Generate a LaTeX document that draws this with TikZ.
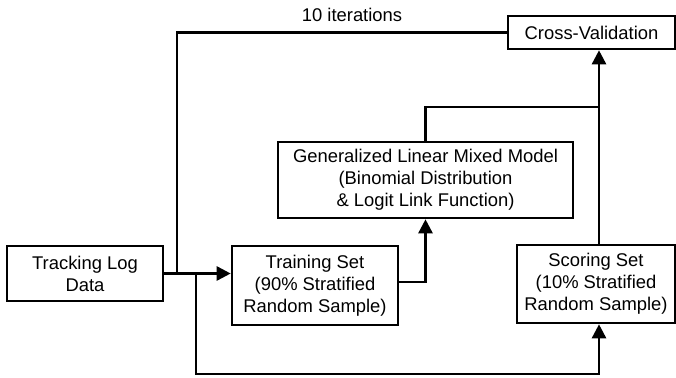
\documentclass[tikz,border=0pt]{standalone}
\usepackage{fontspec}
\setmainfont{Liberation Sans}
\usetikzlibrary{arrows.meta}

\begin{document}
\begin{tikzpicture}[x=1pt, y=-1pt, line width=2.6pt,
    box/.style={draw, rectangle, inner sep=0pt, align=center, font=\fontsize{18.4}{22}\selectfont},
    flow/.style={-{Triangle[length=14pt, width=14pt]}}]
    \useasboundingbox (0,0) rectangle (676,377);

    \node[box, minimum width=156pt, minimum height=55pt] (track) at (85,273.5) {Tracking Log\\Data};
    \node[box, minimum width=166pt, minimum height=79pt] (train) at (315,285.5) {Training Set\\(90\% Stratified\\Random Sample)};
    \node[box, minimum width=295pt, minimum height=76pt] (glmm) at (425.5,180) {Generalized Linear Mixed Model\\(Binomial Distribution\\\& Logit Link Function)};
    \node[box, minimum width=158pt, minimum height=78pt] (score) at (596,284) {Scoring Set\\(10\% Stratified\\Random Sample)};
    \node[box, minimum width=167pt, minimum height=33pt] (cv) at (591.5,32.5) {Cross-Validation};
    \node[font=\fontsize{18.4}{22}\selectfont] (iter) at (352,15) {10 iterations};

    \coordinate (split) at (177,273.5);
    \coordinate (branch) at (196,273.5);
    \coordinate (trunk) at (599,107);
    \coordinate (floor) at (599,374);

    \draw[flow] (track.east) -- (track.east -| train.west);
    \draw (cv.west) -| (split);
    \draw[flow] (branch) |- (floor) -- (score.south -| floor);

    \draw[flow] (train.east |- 0,282) -| (glmm.south);
    \draw (glmm.north) |- (trunk);
    \draw[flow] (score.north -| trunk) -- (cv.south -| trunk);
\end{tikzpicture}
\end{document}
